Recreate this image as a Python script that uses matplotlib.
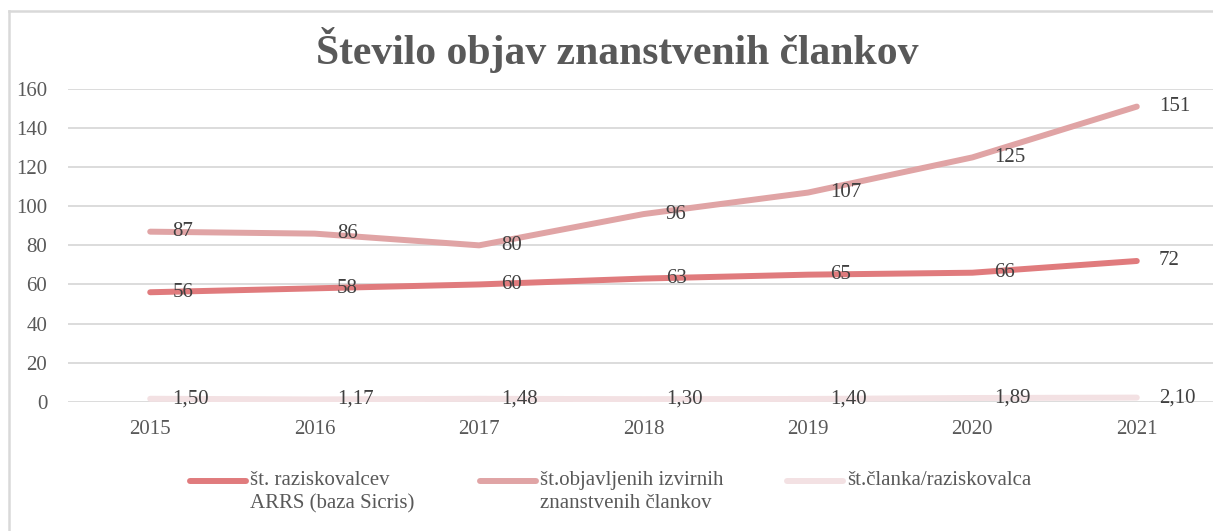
import matplotlib.pyplot as plt
from matplotlib.lines import Line2D

plt.rcParams['font.family'] = ['Liberation Serif', 'DejaVu Serif']

years = ['2015', '2016', '2017', '2018', '2019', '2020', '2021']
raziskovalci = [56, 58, 60, 63, 65, 66, 72]
clanki = [87, 86, 80, 96, 107, 125, 151]
razmerje = [1.50, 1.17, 1.48, 1.30, 1.40, 1.89, 2.10]
imena = ['št. raziskovalcev\nARRS (baza Sicris)',
         'št.objavljenih izvirnih\nznanstvenih člankov',
         'št.članka/raziskovalca']
barve = ['#E07B7D', '#E0A4A5', '#F3E1E3']

W, H = 1213, 531
fig = plt.figure(figsize=(W / 100, H / 100), dpi=100)

# okvir grafa (levi in zgornji rob sta vidna)
siva = '#D9D9D9'
fig.add_artist(Line2D([9 / W, 9 / W], [0, 1 - 11 / H], color=siva, lw=1.8))
fig.add_artist(Line2D([9 / W, 1], [1 - 11 / H, 1 - 11 / H], color=siva, lw=1.8))

ax = fig.add_axes([68 / W, 1 - 401.7 / H, (1219 - 68) / W, (401.7 - 89) / H])
x = list(range(len(years)))

serije = [raziskovalci, clanki, razmerje]
for vals, c in zip(serije, barve):
    ax.plot(x, vals, color=c, lw=4.3, solid_capstyle='round', zorder=3)

# oznake podatkov
fs = 15
for i in x:
    ax.annotate(str(raziskovalci[i]), (i, raziskovalci[i]), xytext=(16, 0),
                textcoords='offset points', va='center', ha='left',
                fontsize=fs, color='#404040', zorder=5)
    ax.annotate(str(clanki[i]), (i, clanki[i]), xytext=(16, 0),
                textcoords='offset points', va='center', ha='left',
                fontsize=fs, color='#404040', zorder=5)
    ax.annotate(('%.2f' % razmerje[i]).replace('.', ','), (i, razmerje[i]),
                xytext=(16, 0), textcoords='offset points', va='center',
                ha='left', fontsize=fs, color='#404040', zorder=5)

ax.set_xlim(-0.5, 6.5)
ax.set_ylim(0, 160)
ax.set_yticks(range(0, 161, 20))
ax.set_xticks(x)
ax.set_xticklabels(years)
ax.grid(axis='y', color=siva, lw=1.3, zorder=0)
ax.set_axisbelow(True)
for s in ax.spines.values():
    s.set_visible(False)
ax.tick_params(axis='both', length=0, labelsize=fs, colors='#595959')
ax.tick_params(axis='y', pad=15)
ax.tick_params(axis='x', pad=13)

fig.text(617 / W, 1 - 64 / H, 'Število objav znanstvenih člankov',
         ha='center', va='baseline', fontsize=30, fontweight='bold',
         color='#595959')

# legenda
leg_x = [190, 480, 787]
leg_y = 1 - 481 / H
for lx, ime, c in zip(leg_x, imena, barve):
    fig.add_artist(Line2D([lx / W, (lx + 56) / W], [leg_y, leg_y], color=c,
                          lw=4.3, solid_capstyle='round'))
    fig.text((lx + 60) / W, leg_y + 10 / H, ime, ha='left', va='top',
             fontsize=fs, color='#595959', linespacing=1.3)

fig.savefig('out.png', dpi=100)
